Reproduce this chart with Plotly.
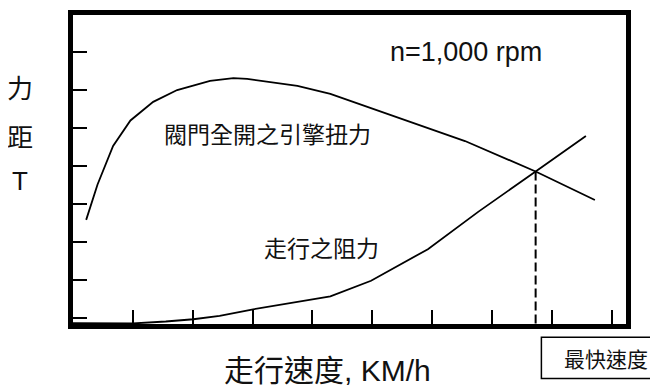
import plotly.graph_objects as go

# Engine torque curve (wide-open throttle)
torque_speed = [0.22, 0.32, 0.41, 0.67, 0.96, 1.34, 1.74, 2.29, 2.68, 2.91, 3.75, 4.30, 6.55, 7.73, 8.72]
torque_value = [2.58, 3.05, 3.51, 4.52, 5.19, 5.68, 5.99, 6.23, 6.30, 6.28, 6.10, 5.89, 4.65, 3.85, 3.10]

# Running resistance curve
resist_speed = [0.00, 0.70, 1.00, 1.55, 2.01, 2.45, 3.01, 4.30, 4.98, 5.93, 6.77, 7.73, 8.57]
resist_value = [-0.13, -0.15, -0.14, -0.09, -0.03, 0.06, 0.23, 0.57, 0.98, 1.81, 2.79, 3.85, 4.78]

# Intersection = maximum speed
max_speed_x = 7.73
max_speed_y = 3.85

x_ticks = [1, 2, 3, 4, 5, 6, 7, 8, 9]
y_ticks = [0, 1, 2, 3, 4, 5, 6, 7]

CJK = "Noto Sans CJK TC, Liberation Sans, sans-serif"
LAT = "Liberation Sans, Arial, Noto Sans CJK TC, sans-serif"

fig = go.Figure()
fig.add_trace(go.Scatter(x=torque_speed, y=torque_value, mode="lines",
                         line=dict(color="black", width=1.8), hoverinfo="skip"))
fig.add_trace(go.Scatter(x=resist_speed, y=resist_value, mode="lines",
                         line=dict(color="black", width=1.8), hoverinfo="skip"))

fig.add_shape(type="line", xref="x", yref="y",
              x0=max_speed_x, x1=max_speed_x, y0=max_speed_y, y1=-0.155,
              line=dict(color="black", width=2, dash="9px,4px"))

# box for 最快速度
fig.add_shape(type="rect", xref="paper", yref="paper",
              x0=0.847, x1=1.08, y0=-0.176, y1=-0.043,
              line=dict(color="black", width=1.5), fillcolor="white")

ann = []
ann.append(dict(text="n=1,000 rpm", x=6.57, y=6.98, xref="x", yref="y",
                font=dict(family=LAT, size=27, color="#111")))
ann.append(dict(text="閥門全開之引擎扭力", x=3.25, y=4.86, xref="x", yref="y",
                font=dict(family=CJK, size=23, color="#111")))
ann.append(dict(text="走行之阻力", x=4.15, y=1.86, xref="x", yref="y",
                font=dict(family=CJK, size=23, color="#111")))
for ch, yy in zip(["力", "距", "T"], [0.768, 0.609, 0.462]):
    ann.append(dict(text=ch, x=-0.096, y=yy, xref="paper", yref="paper",
                    font=dict(family=CJK if ch != "T" else LAT, size=26, color="#111")))
ann.append(dict(text="走行速度, KM/h", x=0.46, y=-0.15, xref="paper", yref="paper",
                font=dict(family=LAT, size=30, color="#111")))
ann.append(dict(text="最快速度", x=0.963, y=-0.11, xref="paper", yref="paper",
                font=dict(family=CJK, size=21, color="#111")))
for a in ann:
    a.update(showarrow=False, xanchor="center", yanchor="middle")

# page body has an 8px margin: size the figure so it fits the 658x392 window
fig.update_layout(
    width=650, height=384,
    margin=dict(l=65, r=31.5, t=2, b=68),
    paper_bgcolor="white", plot_bgcolor="white",
    showlegend=False,
    annotations=ann,
    xaxis=dict(range=[0, 9.24], tickvals=x_ticks, showticklabels=False,
               ticks="inside", ticklen=14, tickwidth=2, tickcolor="black",
               showline=True, linewidth=5, linecolor="black", mirror=True,
               showgrid=False, zeroline=False, fixedrange=True),
    yaxis=dict(range=[-0.155, 7.96], tickvals=y_ticks, showticklabels=False,
               ticks="inside", ticklen=14, tickwidth=2, tickcolor="black",
               showline=True, linewidth=5, linecolor="black", mirror=True,
               showgrid=False, zeroline=False, fixedrange=True),
)

fig.write_html("out.html")
